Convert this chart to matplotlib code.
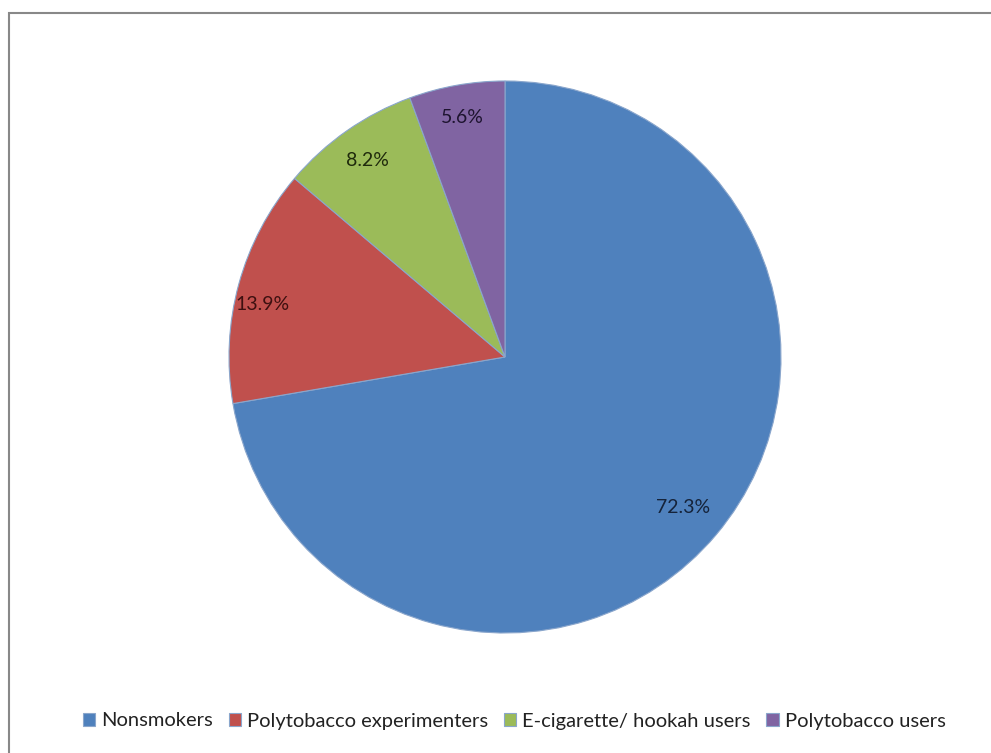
import matplotlib
matplotlib.use("Agg")
import matplotlib.pyplot as plt
from matplotlib.patches import Rectangle
import numpy as np

categories = ["Nonsmokers", "Polytobacco experimenters", "E-cigarette/ hookah users", "Polytobacco users"]
values = [72.3, 13.9, 8.2, 5.6]
colors = ["#4F81BD", "#C0504D", "#9BBB59", "#8064A2"]
label_colors = ["#15233a", "#3d1010", "#1f2a0c", "#1e1430"]
label_dist = [0.845, 0.90, 0.87, 0.88]

plt.rcParams['font.family'] = ['Lato', 'DejaVu Sans']

W, H = 991, 753
fig = plt.figure(figsize=(W / 100, H / 100), dpi=100)

cx, cy, r = 505, 357, 276
ax = fig.add_axes([(cx - r) / W, (H - cy - r) / H, 2 * r / W, 2 * r / H])
wedges, texts, autotexts = ax.pie(
    values, colors=colors, startangle=90, counterclock=False,
    autopct=lambda p: f"{p:.1f}%", pctdistance=1.0,
    wedgeprops=dict(edgecolor="#8aa6cc", linewidth=0.8),
    textprops=dict(fontsize=14))
for i, (t, c, d) in enumerate(zip(autotexts, label_colors, label_dist)):
    x, y = t.get_position()
    if i == 1:
        ang = np.arctan2(y, x) + np.deg2rad(3)
        rad = np.hypot(x, y)
        x, y = rad * np.cos(ang), rad * np.sin(ang)
    t.set_position((x * d, y * d))
    t.set_color(c)
ax.set_xlim(-1, 1)
ax.set_ylim(-1, 1)
ax.set_aspect("equal")

leg = fig.legend(wedges, categories, loc="center", bbox_to_anchor=(514 / W, 1 - 721 / H),
                 ncol=4, frameon=False, fontsize=14.5, handlelength=0.6, handleheight=0.6,
                 handletextpad=0.3, columnspacing=0.8)
for t in leg.get_texts():
    t.set_color("#222222")

fig.add_artist(Rectangle((9 / W, -0.1), 1.2, 1 - 13 / H + 0.1, transform=fig.transFigure,
                         fill=False, edgecolor="#888888", linewidth=1.5))

fig.savefig("out.png", dpi=100)
